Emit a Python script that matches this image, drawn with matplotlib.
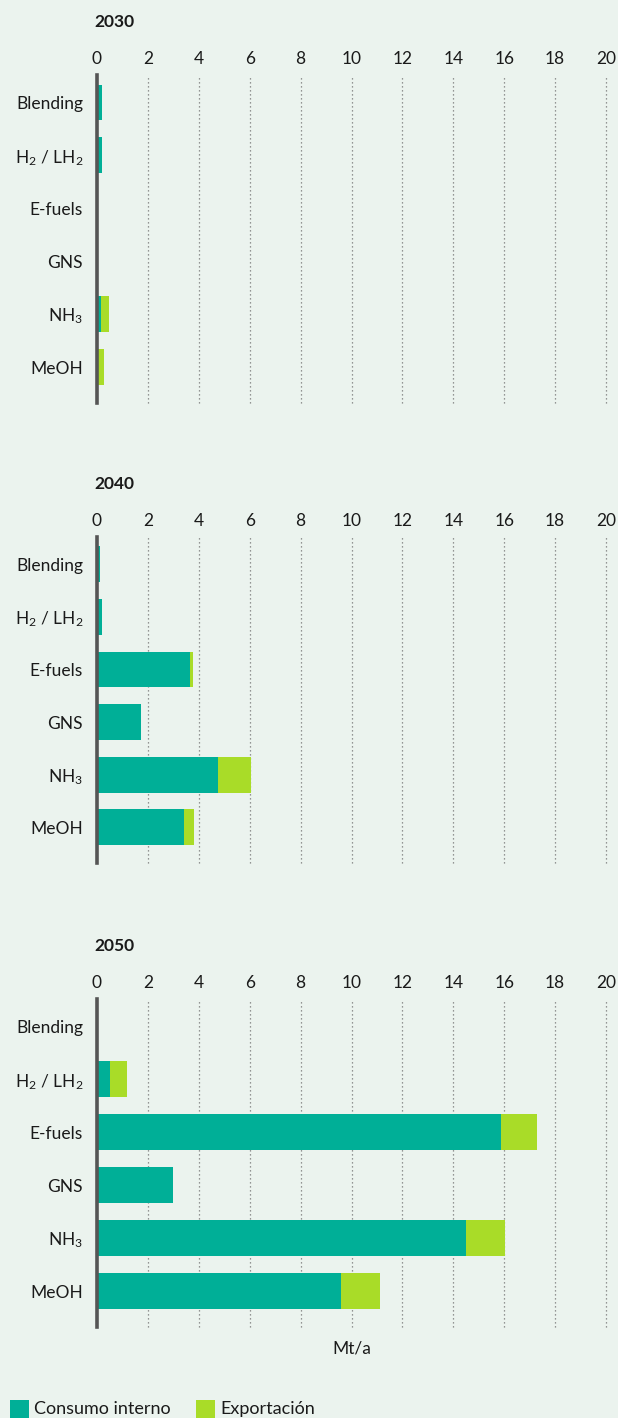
import matplotlib
matplotlib.use("Agg")
import matplotlib.pyplot as plt
from matplotlib.patches import Rectangle
import numpy as np

plt.rcParams["font.family"] = ["Lato", "DejaVu Sans"]
plt.rcParams["mathtext.fontset"] = "custom"
plt.rcParams["mathtext.rm"] = "Lato"
plt.rcParams["mathtext.default"] = "regular"

# Data (Mt/a)
categories = ["Blending", "H$_2$ / LH$_2$", "E-fuels", "GNS", "NH$_3$", "MeOH"]
years = ["2030", "2040", "2050"]
consumo_2030 = [0.2, 0.2, 0.0, 0.0, 0.17, 0.0]
export_2030 = [0.0, 0.0, 0.0, 0.0, 0.31, 0.29]
consumo_2040 = [0.13, 0.2, 3.66, 1.74, 4.76, 3.43]
export_2040 = [0.0, 0.0, 0.12, 0.0, 1.3, 0.39]
consumo_2050 = [0.0, 0.5, 15.86, 3.0, 14.5, 9.6]
export_2050 = [0.0, 0.66, 1.44, 0.0, 1.54, 1.53]
xticks = list(range(0, 21, 2))
unit_label = "Mt/a"
legend_labels = ["Consumo interno", "Exportación"]

BG = "#ebf3ee"
TEAL = "#00af97"
LIME = "#a9dc28"
TEXT = "#1a1a1a"

W, H = 618, 1418
fig = plt.figure(figsize=(W / 100, H / 100), dpi=100, facecolor=BG)

panels = [
    (years[0], consumo_2030, export_2030, 75, 403),
    (years[1], consumo_2040, export_2040, 537, 863),
    (years[2], consumo_2050, export_2050, 999, 1327),
]

left_px, right_px = 97, 606
y = np.arange(len(categories))

for i, (year, cons, exp, top_px, bot_px) in enumerate(panels):
    ax = fig.add_axes([left_px / W, 1 - bot_px / H,
                       (right_px - left_px) / W, (bot_px - top_px) / H])
    ax.set_facecolor(BG)
    ax.barh(y, cons, height=0.68, color=TEAL, zorder=3)
    ax.barh(y, exp, left=cons, height=0.68, color=LIME, zorder=3)

    ax.set_xlim(0, 20)
    ax.set_ylim(5.68, -0.52)
    ax.xaxis.tick_top()
    ax.set_xticks(xticks)
    ax.set_xticklabels([str(t) for t in xticks])
    ax.set_yticks(y)
    ax.set_yticklabels(categories)
    ax.tick_params(axis="both", length=0, labelsize=12.5, colors=TEXT)
    ax.tick_params(axis="x", pad=6)
    ax.tick_params(axis="y", pad=10)

    for t in xticks[1:]:
        ax.axvline(t, color="#777777", lw=0.9, ls=(0, (1, 2.2)), zorder=1,
                   clip_on=False)

    for s in ["top", "right", "bottom"]:
        ax.spines[s].set_visible(False)
    ax.spines["left"].set_color("#555555")
    ax.spines["left"].set_linewidth(2.6)
    ax.spines["left"].set_zorder(4)

    fig.text(94 / W, 1 - (top_px - 53) / H, year, fontsize=12.5,
             fontweight="bold", color=TEXT, ha="left", va="center")

    if i == 2:
        ax.text(0.5, -0.065, unit_label, transform=ax.transAxes, ha="center",
                va="center", fontsize=12.5, color=TEXT)

# Legend
for x0, col, lab in [(10, TEAL, legend_labels[0]), (196, LIME, legend_labels[1])]:
    fig.patches.append(Rectangle((x0 / W, 0), 19 / W, 18 / H, transform=fig.transFigure,
                                 facecolor=col, edgecolor="none"))
    fig.text((x0 + 24) / W, 1 - 1409 / H, lab, fontsize=13, color=TEXT,
             ha="left", va="center")

fig.savefig("out.png", dpi=100, facecolor=BG)
